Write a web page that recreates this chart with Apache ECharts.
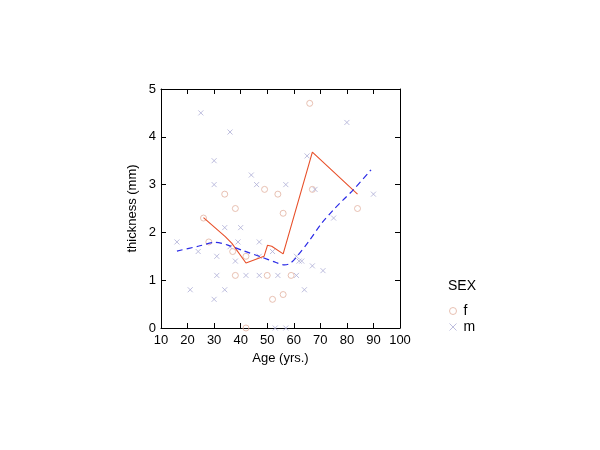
<!DOCTYPE html>
<html>
<head>
  <meta charset="utf-8">
  <title>thickness vs age</title>
  <script src="https://cdn.jsdelivr.net/npm/echarts@6/dist/echarts.min.js"></script>
</head>
<body style="margin:0">
  <div id="container" style="height: 450px; width: 600px"></div>
  <script>
    // points: [age, thickness]
    var femalePts = [
      [66, 4.7], [34, 2.8], [49, 2.9], [54, 2.8], [38, 2.5], [67, 2.9], [84, 2.5],
      [56, 2.4], [26, 2.3], [28, 1.8], [37, 1.6], [42, 1.5], [38, 1.1], [50, 1.1],
      [59, 1.1], [56, 0.7], [52, 0.6], [42, 0]
    ];
    var malePts = [
      [16, 1.8], [21, 0.8], [25, 4.5], [36, 4.1], [30, 3.5], [44, 3.2], [30, 3.0],
      [46, 3.0], [57, 3.0], [80, 4.3], [65, 3.6], [68, 2.9], [90, 2.8], [34, 2.1],
      [40, 2.1], [24, 1.6], [39, 1.8], [47, 1.8], [36, 1.7], [52, 1.6], [31, 1.5],
      [47, 1.5], [38, 1.4], [31, 1.1], [42, 1.1], [47, 1.1], [54, 1.1], [34, 0.8],
      [30, 0.6], [53, 0], [57, 0], [75, 2.3], [61, 1.5], [62, 1.4], [63, 1.4],
      [67, 1.3], [71, 1.2], [61, 1.1], [64, 0.8]
    ];
    // smoother curves
    var femaleFit = [
      [26, 2.31], [34.2, 1.91], [36.7, 1.77], [42, 1.36], [48.8, 1.50], [50.1, 1.73],
      [51.7, 1.71], [56, 1.55], [67, 3.68], [84, 2.80]
    ];
    var maleFit = [
      [16, 1.61], [24, 1.71], [30.4, 1.79], [35.4, 1.73], [41.3, 1.61], [47.5, 1.49],
      [53.3, 1.37], [56.5, 1.32], [58.6, 1.35], [61.1, 1.49], [65.5, 1.8], [70.5, 2.19],
      [74.9, 2.47], [78.6, 2.68], [82.4, 2.89], [89.1, 3.31]
    ];
    var xTicks = [10, 20, 30, 40, 50, 60, 70, 80, 90, 100];
    var yTicks = [0, 1, 2, 3, 4, 5];

    var myChart = echarts.init(document.getElementById('container'));
    var font = 'Liberation Sans, Arial, sans-serif';
    var frame = { show: true, onZero: false, lineStyle: { color: '#000', width: 1 } };
    var ticks = { show: true, inside: true, length: 5, lineStyle: { color: '#000' } };
    var crossPath = 'path://M0,0L10,10M10,0L0,10';
    var fColor = '#e2b2a0';
    var mColor = '#aeaed6';

    var option = {
      backgroundColor: '#fff',
      animation: false,
      textStyle: { fontFamily: font },
      grid: { left: 161, top: 89, width: 239, height: 239 },
      title: {
        text: 'SEX', left: 443, top: 274,
        textStyle: { fontSize: 14, fontWeight: 'normal', color: '#000', fontFamily: font }
      },
      legend: {
        orient: 'vertical', left: 449, top: 303, itemGap: 0, padding: 0,
        itemWidth: 7, itemHeight: 7,
        data: [
          { name: 'f', icon: 'circle', itemStyle: { color: 'rgba(0,0,0,0)', borderColor: fColor, borderWidth: 1 } },
          { name: 'm', icon: crossPath, itemStyle: { color: 'rgba(0,0,0,0)', borderColor: mColor, borderWidth: 1 } }
        ],
        textStyle: { fontSize: 14, lineHeight: 16, color: '#000', fontFamily: font, padding: [0, 0, 0, 2] }
      },
      xAxis: [
        {
          type: 'value', min: xTicks[0], max: xTicks[xTicks.length - 1], interval: 10,
          name: 'Age (yrs.)', nameLocation: 'middle', nameGap: 23,
          nameTextStyle: { fontSize: 13, color: '#000' },
          axisLine: frame, axisTick: ticks, splitLine: { show: false },
          axisLabel: { fontSize: 13, color: '#000', margin: 6 }
        },
        {
          type: 'value', position: 'top', min: xTicks[0], max: xTicks[xTicks.length - 1], interval: 10,
          axisLine: frame, axisTick: ticks, splitLine: { show: false }, axisLabel: { show: false }
        }
      ],
      yAxis: [
        {
          type: 'value', min: yTicks[0], max: yTicks[yTicks.length - 1], interval: 1,
          name: 'thickness (mm)', nameLocation: 'middle', nameGap: 22,
          nameTextStyle: { fontSize: 13, color: '#000' },
          axisLine: frame, axisTick: ticks, splitLine: { show: false },
          axisLabel: { fontSize: 13, color: '#000', margin: 5 }
        },
        {
          type: 'value', position: 'right', min: yTicks[0], max: yTicks[yTicks.length - 1], interval: 1,
          axisLine: frame, axisTick: ticks, splitLine: { show: false }, axisLabel: { show: false }
        }
      ],
      series: [
        {
          name: 'f', type: 'scatter', data: femalePts, symbol: 'circle', symbolSize: 6,
          itemStyle: { color: 'rgba(0,0,0,0)', borderColor: fColor, borderWidth: 1 }
        },
        {
          name: 'm', type: 'scatter', data: malePts, symbol: crossPath, symbolSize: 5,
          itemStyle: { color: 'rgba(0,0,0,0)', borderColor: mColor, borderWidth: 1 }
        },
        {
          name: 'f fit', type: 'line', data: femaleFit, symbol: 'none',
          lineStyle: { color: '#e8502a', width: 1.1 }
        },
        {
          name: 'm fit', type: 'line', data: maleFit, symbol: 'none', smooth: 0.3,
          lineStyle: { color: '#2b2be6', width: 1.2, type: [6, 4] }
        }
      ]
    };
    myChart.setOption(option);
  </script>
</body>
</html>
